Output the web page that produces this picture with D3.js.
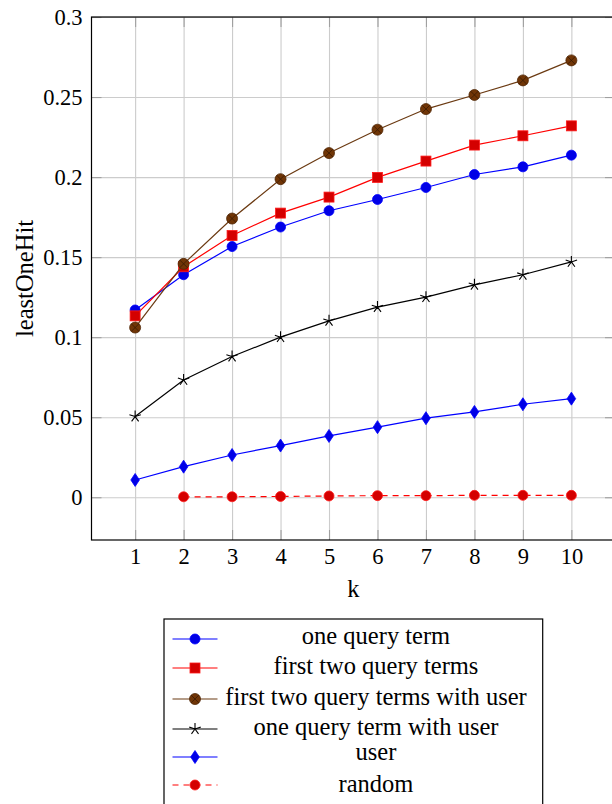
<!DOCTYPE html>
<html>
<head>
<meta charset="utf-8">
<script src="https://cdn.jsdelivr.net/npm/d3@7"></script>
<style>
  body { margin: 0; background: #fff; }
  svg { display: block; font-family: "Liberation Serif", "DejaVu Serif", serif; }
  svg text { font-family: "Liberation Serif", "DejaVu Serif", serif; }
</style>
</head>
<body>
<div id="chart"></div>
<script>
const width = 612;
const height = 804;

// data
const kValues = [1, 2, 3, 4, 5, 6, 7, 8, 9, 10];
const oneQueryTerm = [0.117, 0.139, 0.1566, 0.1688, 0.179, 0.186, 0.1935, 0.2016, 0.2064, 0.2137];
const firstTwoQueryTerms = [0.1133, 0.144, 0.1635, 0.1775, 0.1875, 0.1998, 0.210, 0.220, 0.2258, 0.232];
const firstTwoWithUser = [0.106, 0.1458, 0.1741, 0.1987, 0.215, 0.2296, 0.2425, 0.2513, 0.2604, 0.2729];
const oneQueryTermWithUser = [0.0504, 0.0733, 0.0879, 0.100, 0.1102, 0.1188, 0.125, 0.1327, 0.139, 0.147];
const userOnly = [0.0108, 0.0191, 0.0264, 0.0323, 0.0383, 0.0438, 0.0494, 0.0533, 0.0581, 0.0616];
const randomK = [2, 3, 4, 5, 6, 7, 8, 9, 10];
const randomValues = [0.0003, 0.0003, 0.0005, 0.0008, 0.001, 0.001, 0.0012, 0.0012, 0.0012];

const yTicks = [0, 0.05, 0.1, 0.15, 0.2, 0.25, 0.3];
const legendNames = ["one query term", "first two query terms", "first two query terms with user",
                     "one query term with user", "user", "random"];

const series = [
  {name: legendNames[0], xs: kValues, ys: oneQueryTerm, line: "#0000ff", mark: "circle", fill: "#0000e6", edge: "#0000ff"},
  {name: legendNames[1], xs: kValues, ys: firstTwoQueryTerms, line: "#ff0000", mark: "square", fill: "#d40000", edge: "#ff1a1a"},
  {name: legendNames[2], xs: kValues, ys: firstTwoWithUser, line: "#6b3a12", mark: "otimes", fill: "#703506", edge: "#4f2605"},
  {name: legendNames[3], xs: kValues, ys: oneQueryTermWithUser, line: "#000000", mark: "star", fill: "none", edge: "#000000"},
  {name: legendNames[4], xs: kValues, ys: userOnly, line: "#0000ff", mark: "diamond", fill: "#0000e6", edge: "#0000ff"},
  {name: legendNames[5], xs: randomK, ys: randomValues, line: "#ff0000", mark: "circle", fill: "#d40000", edge: "#ff1a1a", dash: "6,5"}
];

const plotLeft = 91.5, plotRight = 615, plotTop = 17, plotBottom = 540;

const x = d3.scaleLinear().domain([0.1, 10.9]).range([plotLeft, plotRight]);
const y = d3.scaleLinear().domain([-0.0267, 0.3]).range([plotBottom, plotTop]);

const svg = d3.select("#chart").append("svg")
    .attr("width", width)
    .attr("height", height);

// grid
svg.append("g")
    .attr("transform", `translate(0,${plotBottom})`)
    .call(d3.axisBottom(x).tickValues(kValues).tickSize(-(plotBottom - plotTop)).tickFormat(""))
    .call(g => g.select(".domain").remove())
    .call(g => g.selectAll("line").attr("stroke", "#cccccc").attr("stroke-width", 1.1));
svg.append("g")
    .attr("transform", `translate(${plotLeft},0)`)
    .call(d3.axisLeft(y).tickValues(yTicks).tickSize(-(plotRight - plotLeft)).tickFormat(""))
    .call(g => g.select(".domain").remove())
    .call(g => g.selectAll("line").attr("stroke", "#cccccc").attr("stroke-width", 1.1));

// ticks, inside on all four sides
function tickStyle(g) {
  g.attr("font-family", null).attr("font-size", null);
  g.select(".domain").remove();
  g.selectAll("line").attr("stroke", "#a0a0a0").attr("stroke-width", 1.1);
  g.selectAll("text").attr("fill", "#000").style("font-size", "22.5px");
}
svg.append("g")
    .attr("transform", `translate(0,${plotBottom})`)
    .call(d3.axisBottom(x).tickValues(kValues).tickSizeInner(-10).tickSizeOuter(0).tickPadding(8).tickFormat(d => String(d)))
    .call(tickStyle);
svg.append("g")
    .attr("transform", `translate(0,${plotTop})`)
    .call(d3.axisTop(x).tickValues(kValues).tickSizeInner(-10).tickSizeOuter(0).tickFormat(""))
    .call(tickStyle);
svg.append("g")
    .attr("transform", `translate(${plotLeft},0)`)
    .call(d3.axisLeft(y).tickValues(yTicks).tickSizeInner(-10).tickSizeOuter(0).tickPadding(9).tickFormat(d => String(d)))
    .call(tickStyle);
svg.append("g")
    .attr("transform", `translate(${plotRight},0)`)
    .call(d3.axisRight(y).tickValues(yTicks).tickSizeInner(-10).tickSizeOuter(0).tickFormat(""))
    .call(tickStyle);

// frame
svg.append("rect")
    .attr("x", plotLeft).attr("y", plotTop)
    .attr("width", plotRight - plotLeft).attr("height", plotBottom - plotTop)
    .attr("fill", "none").attr("stroke", "#000").attr("stroke-width", 1.2);

// axis labels
svg.append("text")
    .attr("x", (plotLeft + plotRight) / 2).attr("y", 597)
    .attr("text-anchor", "middle")
    .style("font-size", "24.5px")
    .text("k");
svg.append("text")
    .attr("transform", `translate(33,${(plotTop + plotBottom) / 2}) rotate(-90)`)
    .attr("text-anchor", "middle")
    .style("font-size", "24.5px")
    .text("leastOneHit");

function drawMarker(g, s) {
  if (s.mark === "circle") {
    g.append("circle").attr("r", 5).attr("fill", s.fill).attr("stroke", s.edge).attr("stroke-width", 0.8);
  } else if (s.mark === "square") {
    g.append("rect").attr("x", -5).attr("y", -5).attr("width", 10).attr("height", 10)
      .attr("fill", s.fill).attr("stroke", s.edge).attr("stroke-width", 0.8);
  } else if (s.mark === "otimes") {
    g.append("circle").attr("r", 5.5).attr("fill", s.fill).attr("stroke", s.edge).attr("stroke-width", 0.8);
    const a = 5.5 * Math.SQRT1_2;
    g.append("path").attr("d", `M${-a},${-a}L${a},${a}M${-a},${a}L${a},${-a}`)
      .attr("stroke", "#3a1a02").attr("stroke-width", 0.8);
  } else if (s.mark === "star") {
    let d = "";
    for (let i = 0; i < 5; i++) {
      const ang = -Math.PI / 2 + i * 2 * Math.PI / 5;
      d += `M0,0L${6 * Math.cos(ang)},${6 * Math.sin(ang)}`;
    }
    g.append("path").attr("d", d).attr("stroke", "#000").attr("stroke-width", 1.1).attr("fill", "none");
  } else if (s.mark === "diamond") {
    g.append("path").attr("d", "M0,-6.5L4.3,0L0,6.5L-4.3,0Z")
      .attr("fill", s.fill).attr("stroke", s.edge).attr("stroke-width", 0.8);
  }
}

const line = d3.line().x(d => x(d[0])).y(d => y(d[1]));

series.forEach(s => {
  const pts = s.xs.map((k, i) => [k, s.ys[i]]);
  svg.append("path")
      .datum(pts)
      .attr("d", line)
      .attr("fill", "none")
      .attr("stroke", s.line)
      .attr("stroke-width", 1.2)
      .attr("stroke-dasharray", s.dash || null);
  svg.append("g").selectAll("g")
      .data(pts)
      .join("g")
      .attr("transform", d => `translate(${x(d[0])},${y(d[1])})`)
      .each(function() { drawMarker(d3.select(this), s); });
});

// legend
const legendMarkY = [639, 668, 699, 729, 757, 785];
const legendTextY = [644, 674, 705, 735, 760, 792];
const legend = svg.append("g");
legend.append("rect")
    .attr("x", 164).attr("y", 619)
    .attr("width", 542.7 - 164).attr("height", 200)
    .attr("fill", "#fff").attr("stroke", "#000").attr("stroke-width", 1.2);
series.forEach((s, i) => {
  legend.append("line")
      .attr("x1", 172.5).attr("x2", 217.5)
      .attr("y1", legendMarkY[i]).attr("y2", legendMarkY[i])
      .attr("stroke", s.line).attr("stroke-width", 1.2)
      .attr("stroke-dasharray", s.dash || null);
  const m = legend.append("g").attr("transform", `translate(195,${legendMarkY[i]})`);
  drawMarker(m, s);
  legend.append("text")
      .attr("x", 376).attr("y", legendTextY[i])
      .attr("text-anchor", "middle")
      .style("font-size", "24.5px")
      .text(s.name);
});
</script>
</body>
</html>
